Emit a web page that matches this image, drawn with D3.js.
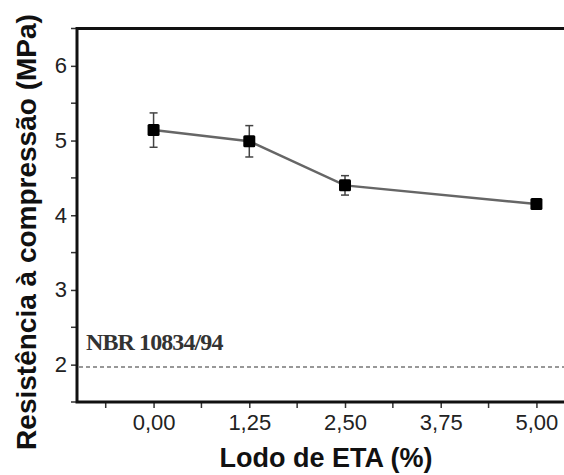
<!DOCTYPE html>
<html>
<head>
<meta charset="utf-8">
<script src="https://cdn.jsdelivr.net/npm/d3@7"></script>
<style>
  body { margin: 0; background: #fff; }
  svg { display: block; font-family: Arial, "Liberation Sans", sans-serif; }
</style>
</head>
<body>
<div id="chart"></div>
<script>
var lodo = [0, 1.25, 2.5, 5]
var resistencia = [5.14, 4.99, 4.40, 4.15]
var erro = [0.23, 0.21, 0.13, 0.06]
var xTicks = [0, 1.25, 2.5, 3.75, 5]
var xTickLabels = ["0,00", "1,25", "2,50", "3,75", "5,00"]
var xMinor = [-0.625, 0.625, 1.875, 3.125, 4.375, 5.625]
var yTicks = [2, 3, 4, 5, 6]
var yMinor = [1.5, 2.5, 3.5, 4.5, 5.5, 6.5]
var norma = 1.97
var normaLabel = "NBR 10834/94"

var width = 564, height = 475

var svg = d3.select("#chart").append("svg")
    .attr("width", width)
    .attr("height", height)

// the right side of the plot is cut off in the original
var x = d3.scaleLinear().domain([-1, 6]).range([77, 613])
var y = d3.scaleLinear().domain([1.5, 6.5]).range([402, 28.5])

var xAxis = d3.axisBottom(x)
    .tickValues(xTicks)
    .tickFormat(function(d, i){ return xTickLabels[i] })
    .tickSize(6)
    .tickPadding(6)
var yAxis = d3.axisLeft(y)
    .tickValues(yTicks)
    .tickFormat(d3.format("d"))
    .tickSize(6)
    .tickPadding(4)

var gx = svg.append("g")
    .attr("transform", "translate(0," + y(1.5) + ")")
    .call(xAxis)
var gy = svg.append("g")
    .attr("transform", "translate(" + x(-1) + ",0)")
    .call(yAxis)

gx.selectAll(".tick text").attr("font-size", 22).attr("fill", "#222").attr("dy", "0.72em")
gy.selectAll(".tick text").attr("font-size", 22).attr("fill", "#222")
gx.selectAll(".tick line").attr("stroke", "#333").attr("stroke-width", 1.5)
gy.selectAll(".tick line").attr("stroke", "#333").attr("stroke-width", 1.5)
gx.select(".domain").remove()
gy.select(".domain").remove()

// minor ticks
svg.append("g").selectAll("line").data(xMinor).join("line")
    .attr("x1", function(d){ return x(d) }).attr("x2", function(d){ return x(d) })
    .attr("y1", y(1.5)).attr("y2", y(1.5) + 6)
    .attr("stroke", "#333").attr("stroke-width", 1.5)
svg.append("g").selectAll("line").data(yMinor).join("line")
    .attr("x1", x(-1) - 6).attr("x2", x(-1))
    .attr("y1", function(d){ return y(d) }).attr("y2", function(d){ return y(d) })
    .attr("stroke", "#333").attr("stroke-width", 1.5)

// frame: left, top, bottom
svg.append("path")
    .attr("d", "M" + x(6) + "," + y(6.5) + "H" + x(-1) + "V" + y(1.5) + "H" + x(6))
    .attr("fill", "none")
    .attr("stroke", "#111")
    .attr("stroke-width", 3)

// norm line
svg.append("line")
    .attr("x1", x(-1) + 2).attr("x2", x(6))
    .attr("y1", y(norma)).attr("y2", y(norma))
    .attr("stroke", "#777")
    .attr("stroke-width", 1.5)
    .attr("stroke-dasharray", "4,3")

svg.append("text")
    .attr("x", 86)
    .attr("y", y(norma) - 17)
    .attr("font-family", "'Times New Roman', 'Liberation Serif', serif")
    .attr("font-weight", "bold")
    .attr("font-size", 24)
    .attr("letter-spacing", -0.9)
    .attr("fill", "#333")
    .text(normaLabel)

var pts = lodo.map(function(d, i){ return {x: d, y: resistencia[i], e: erro[i]} })

svg.append("path")
    .datum(pts)
    .attr("d", d3.line().x(function(d){ return x(d.x) }).y(function(d){ return y(d.y) }))
    .attr("fill", "none")
    .attr("stroke", "#666")
    .attr("stroke-width", 2.5)

var eb = svg.append("g").selectAll("g").data(pts).join("g")
    .attr("stroke", "#444")
    .attr("stroke-width", 1.5)
eb.append("line")
    .attr("x1", function(d){ return x(d.x) }).attr("x2", function(d){ return x(d.x) })
    .attr("y1", function(d){ return y(d.y + d.e) }).attr("y2", function(d){ return y(d.y - d.e) })
eb.append("line")
    .attr("x1", function(d){ return x(d.x) - 4 }).attr("x2", function(d){ return x(d.x) + 4 })
    .attr("y1", function(d){ return y(d.y + d.e) }).attr("y2", function(d){ return y(d.y + d.e) })
eb.append("line")
    .attr("x1", function(d){ return x(d.x) - 4 }).attr("x2", function(d){ return x(d.x) + 4 })
    .attr("y1", function(d){ return y(d.y - d.e) }).attr("y2", function(d){ return y(d.y - d.e) })

svg.append("g").selectAll("rect").data(pts).join("rect")
    .attr("x", function(d){ return x(d.x) - 6 })
    .attr("y", function(d){ return y(d.y) - 6 })
    .attr("width", 12)
    .attr("height", 12)
    .attr("rx", 1.5)
    .attr("fill", "#000")

// axis titles
svg.append("text")
    .attr("x", 326)
    .attr("y", 467)
    .attr("text-anchor", "middle")
    .attr("font-size", 27)
    .attr("font-weight", "bold")
    .attr("fill", "#111")
    .text("Lodo de ETA (%)")

svg.append("text")
    .attr("transform", "translate(36,232) rotate(-90)")
    .attr("text-anchor", "middle")
    .attr("font-size", 28)
    .attr("font-weight", "bold")
    .attr("fill", "#111")
    .text("Resistência à compressão (MPa)")
</script>
</body>
</html>
